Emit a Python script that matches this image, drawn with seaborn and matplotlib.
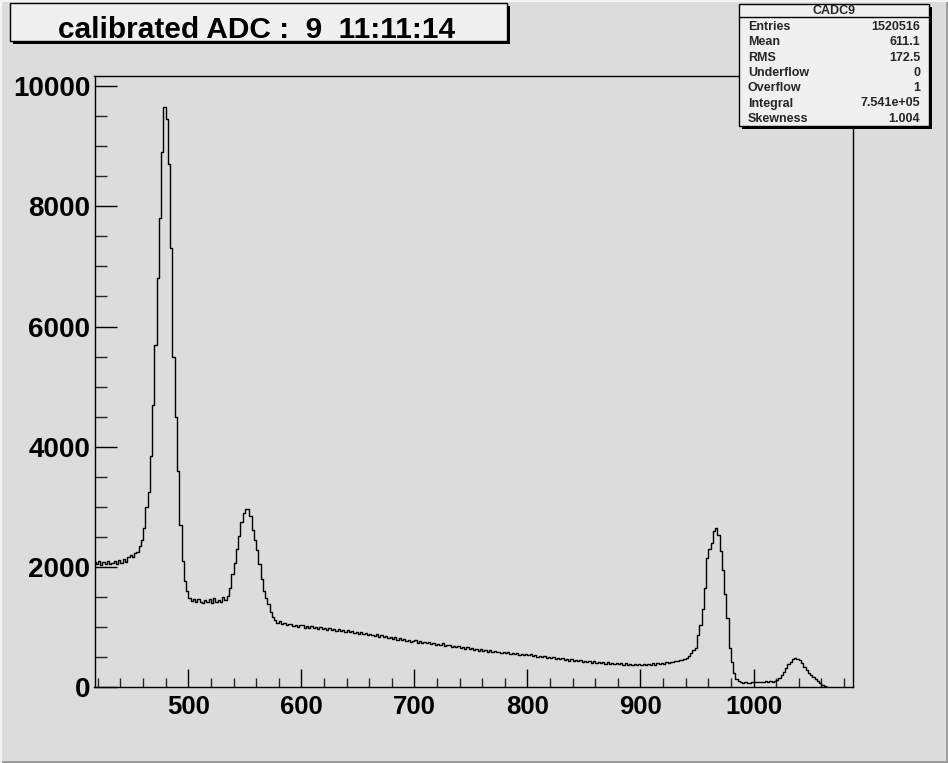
import pandas as pd
import matplotlib.pyplot as plt
from matplotlib.patches import Rectangle
from matplotlib.lines import Line2D
from matplotlib.ticker import MultipleLocator
import seaborn as sns

# ADC histogram, 2-channel bins starting at 416, counts
bin_lo = 416
bin_width = 2

shoulder = [2080, 2040, 2095, 2030, 2085, 2045, 2100, 2040, 2070, 2090,
            2050, 2110, 2070, 2130, 2085, 2160, 2200, 2160, 2235, 2240]
peak_480 = [2350, 2450, 2650, 3000, 3250, 3850, 4700, 5700, 6800, 7800, 8900,
            9650, 9450, 8700, 7300, 5500, 4500, 3600, 2700, 2100, 1760, 1600]
valley = [1480, 1430, 1470, 1410, 1460, 1420, 1395, 1450, 1410,
          1460, 1400, 1480, 1420, 1450, 1410, 1490, 1455, 1510]
peak_550 = [1650, 1880, 2070, 2300, 2520, 2750, 2900, 2970, 2960, 2850,
            2620, 2450, 2280, 2050, 1800, 1600, 1480, 1380, 1250, 1170,
            1110, 1070, 1100, 1055, 1065, 1030, 1045]
tail = [1045, 1010, 1040, 1005, 1025, 1030, 990, 1020, 985, 1010,
        975, 1005, 965, 995, 970, 990, 955, 980, 945, 970,
        940, 965, 930, 955, 920, 945, 910, 930, 895, 920,
        890, 915, 880, 900, 865, 885, 870, 850, 875, 840,
        860, 835, 845, 815, 830, 800, 825, 790, 810, 775,
        800, 765, 785, 755, 770, 775, 740, 760, 730, 755,
        725, 750, 710, 735, 705, 720, 695, 725, 685, 705,
        695, 670, 690, 660, 675, 650, 670, 640, 665, 630,
        650, 620, 635, 605, 625, 600, 620, 590, 610, 585,
        600, 575, 590, 565, 580, 560, 580, 550, 570, 545,
        565, 540, 555, 530, 550, 525, 545, 515, 530, 505,
        520, 495, 510, 485, 500, 475, 495, 465, 485, 460,
        475, 450, 465, 440, 460, 435, 455, 425, 445, 420,
        440, 415, 430, 405, 425, 400, 420, 395, 415, 390,
        410, 385, 405, 380, 400, 375, 400, 370, 395, 365,
        390, 365, 385, 360, 380, 360, 385, 365, 390, 370,
        395, 370, 400, 380, 405, 385, 410, 395, 420, 410,
        435, 425, 450]
peak_967 = [455, 470, 480, 515, 560, 610, 650, 860, 1040, 1300, 1650, 2150, 2295,
            2400, 2600, 2650, 2530, 2260, 1950, 1550, 1150, 650, 420, 240, 130, 100]
peak_1037 = [80, 70, 75, 68, 72, 78, 82, 88, 84, 90, 86, 92, 88, 95, 90, 105,
             120, 150, 200, 255, 320, 380, 420, 470, 480, 470, 455, 400, 330,
             280, 235, 200, 165, 130, 95, 60, 30, 12, 4]

counts = shoulder + peak_480 + valley + peak_550 + tail + peak_967 + peak_1037
edges = [bin_lo + bin_width * i for i in range(len(counts) + 1)]
df = pd.DataFrame({"adc": [e + bin_width / 2 for e in edges[:-1]], "counts": counts})

title_text = "calibrated ADC :  9  11:11:14"
hist_name = "CADC9"
stat_names = ["Entries", "Mean", "RMS", "Underflow", "Overflow", "Integral", "Skewness"]
stat_values = ["1520516", "611.1", "172.5", "0", "1", "7.541e+05", "1.004"]

bg = "#dcdcdc"
box_fill = "#f0f0f0"

sns.set_theme(style="ticks")
plt.rcParams["font.family"] = ["Liberation Sans", "DejaVu Sans"]
plt.rcParams["font.weight"] = "bold"

W, H = 948, 763
fig = plt.figure(figsize=(W / 100, H / 100), dpi=100, facecolor=bg)


def fx(px):
    return px / W


def fy(py):
    return 1 - py / H


ax = fig.add_axes([fx(94.5), fy(687), fx(853) - fx(94.5), fy(76) - fy(687)])
ax.set_facecolor(bg)

sns.histplot(data=df, x="adc", weights="counts", bins=edges, element="step", fill=False,
             color="black", linewidth=1.0, ax=ax)

ax.set_xlim(417, 1088)
ax.set_ylim(0, 10170)
ax.set_xlabel("")
ax.set_ylabel("")
ax.xaxis.set_major_locator(MultipleLocator(100))
ax.xaxis.set_minor_locator(MultipleLocator(20))
ax.yaxis.set_major_locator(MultipleLocator(2000))
ax.yaxis.set_minor_locator(MultipleLocator(500))
for side in ["left", "right", "top", "bottom"]:
    ax.spines[side].set_visible(True)
    ax.spines[side].set_color("black")
    ax.spines[side].set_linewidth(1.0)
ax.tick_params(axis="x", which="major", direction="in", length=13, width=1,
               labelsize=18.5, pad=6, top=False, colors="black")
ax.tick_params(axis="x", which="minor", direction="in", length=6.5, width=1, top=False)
ax.tick_params(axis="y", which="major", direction="in", length=16, width=1,
               labelsize=20, pad=3, right=False, colors="black")
ax.tick_params(axis="y", which="minor", direction="in", length=8.5, width=1, right=False)
for lab in ax.get_xticklabels() + ax.get_yticklabels():
    lab.set_fontweight("bold")

# title box with shadow
fig.patches.append(Rectangle((fx(13), fy(44)), fx(497), fy(3) - fy(41), transform=fig.transFigure,
                             facecolor="black", edgecolor="none", zorder=1))
fig.patches.append(Rectangle((fx(10), fy(41)), fx(497), fy(3) - fy(41), transform=fig.transFigure,
                             facecolor=box_fill, edgecolor="black", linewidth=1, zorder=2))
fig.text(fx(257), fy(37.5), title_text, ha="center", va="baseline", fontsize=21.5,
         fontweight="bold", color="black", zorder=3)

# stats box with shadow
fig.patches.append(Rectangle((fx(742), fy(129)), fx(190), fy(4) - fy(126), transform=fig.transFigure,
                             facecolor="black", edgecolor="none", zorder=4))
fig.patches.append(Rectangle((fx(739), fy(126)), fx(190), fy(4) - fy(126), transform=fig.transFigure,
                             facecolor=box_fill, edgecolor="black", linewidth=1, zorder=5))
fig.lines.append(Line2D([fx(739), fx(929)], [fy(17), fy(17)], transform=fig.transFigure,
                        color="black", linewidth=1, zorder=6))
fig.text(fx(834), fy(10.5), hist_name, ha="center", va="center", fontsize=9,
         fontweight="bold", zorder=7)
for i, (name, val) in enumerate(zip(stat_names, stat_values)):
    y = fy(27 + i * 15.3)
    fig.text(fx(748), y, name, ha="left", va="center", fontsize=9, fontweight="bold", zorder=7)
    fig.text(fx(920), y, val, ha="right", va="center", fontsize=9, fontweight="bold", zorder=7)

# canvas bevel
fig.lines.append(Line2D([0, 1], [fy(761.5), fy(761.5)], transform=fig.transFigure,
                        color="#9a9a9a", linewidth=2))
fig.lines.append(Line2D([fx(946.5), fx(946.5)], [0, 1], transform=fig.transFigure,
                        color="#9a9a9a", linewidth=2))
fig.lines.append(Line2D([0, 1], [fy(0.5), fy(0.5)], transform=fig.transFigure,
                        color="#f4f4f4", linewidth=1.5))
fig.lines.append(Line2D([fx(0.5), fx(0.5)], [0, 1], transform=fig.transFigure,
                        color="#f4f4f4", linewidth=1.5))

fig.savefig("out.png", dpi=100, facecolor=bg)
